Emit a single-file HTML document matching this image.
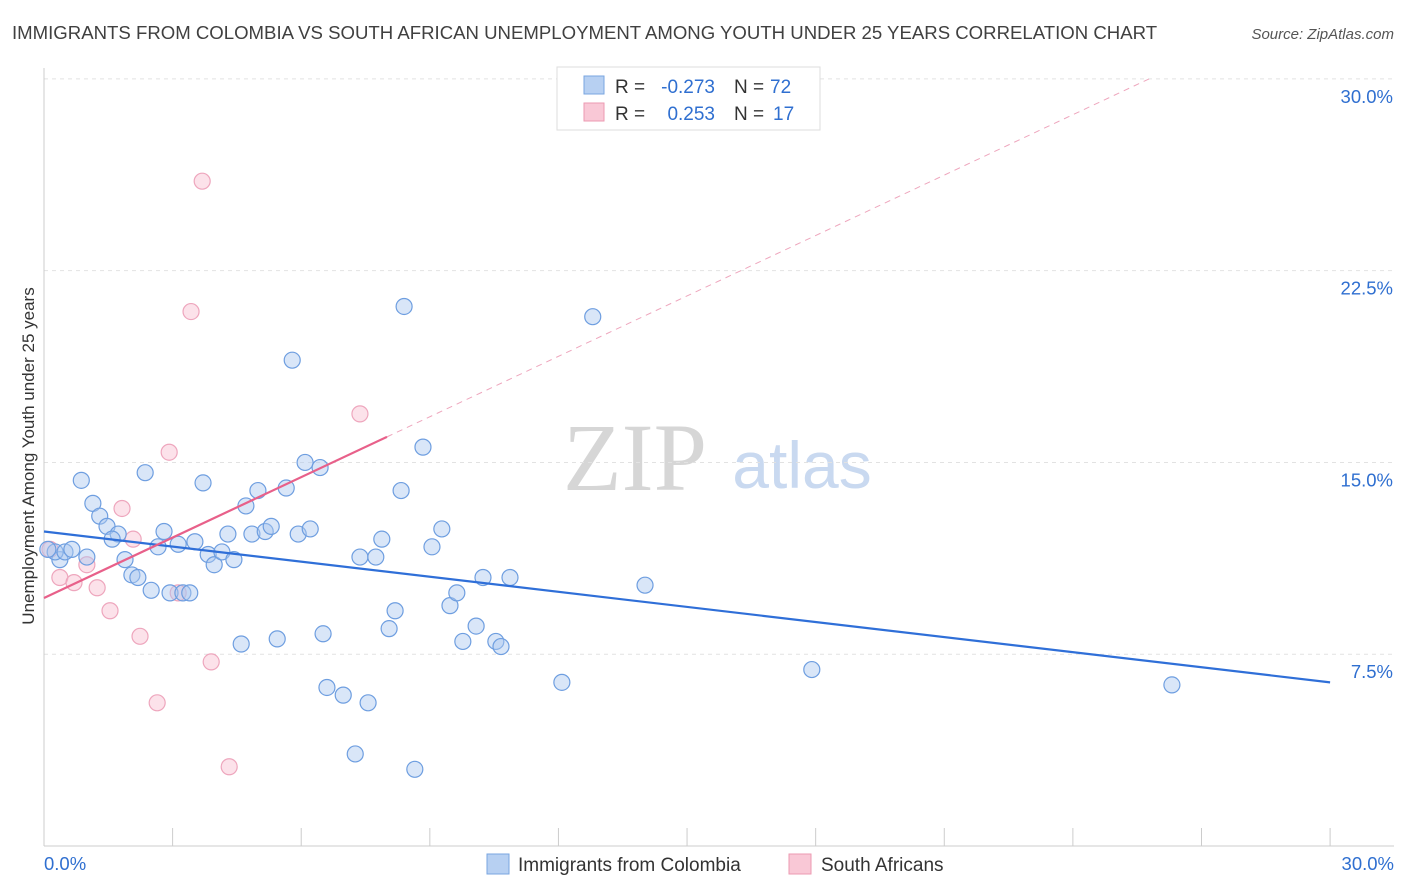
<!DOCTYPE html>
<html><head><meta charset="utf-8"><style>
body{margin:0;background:#fff;font-family:"Liberation Sans",sans-serif;}
svg{display:block}
</style></head><body>
<svg width="1406" height="892" id="chart">
<text x="12" y="39" font-size="18.6" fill="#404040">IMMIGRANTS FROM COLOMBIA VS SOUTH AFRICAN UNEMPLOYMENT AMONG YOUTH UNDER 25 YEARS CORRELATION CHART</text>
<text x="1394" y="39" font-size="15" fill="#555" font-style="italic" text-anchor="end">Source: ZipAtlas.com</text>
<text x="635" y="490" font-size="96" fill="#d6d6d6" font-family="Liberation Serif,serif" text-anchor="middle">ZIP</text>
<text x="802" y="488" font-size="66" fill="#c9d9f0" text-anchor="middle">atlas</text>
<g id="grid"></g><g id="axes"></g><g id="marks"></g>
<text transform="translate(34,456) rotate(-90)" font-size="17" fill="#333" text-anchor="middle">Unemployment Among Youth under 25 years</text>
<g>
<rect x="557" y="67" width="263" height="63" fill="#fff" stroke="#ddd"/>
<rect x="584" y="76" width="20" height="18" fill="#b7d0f2" stroke="#7aa6e0"/>
<rect x="584" y="103" width="20" height="18" fill="#f9c8d6" stroke="#ec9ab2"/>
<text x="615" y="93" font-size="19" fill="#333">R =</text>
<text x="715" y="93" font-size="19" fill="#2f6fd0" text-anchor="end">-0.273</text>
<text x="734" y="93" font-size="19" fill="#333">N =</text>
<text x="770" y="93" font-size="19" fill="#2f6fd0">72</text>
<text x="615" y="120" font-size="19" fill="#333">R =</text>
<text x="715" y="120" font-size="19" fill="#2f6fd0" text-anchor="end">0.253</text>
<text x="734" y="120" font-size="19" fill="#333">N =</text>
<text x="773" y="120" font-size="19" fill="#2f6fd0">17</text>
</g>
<g>
<rect x="487" y="854" width="22" height="20" fill="#b7d0f2" stroke="#7aa6e0"/>
<text x="518" y="871" font-size="19" fill="#333">Immigrants from Colombia</text>
<rect x="789" y="854" width="22" height="20" fill="#f9c8d6" stroke="#ec9ab2"/>
<text x="821" y="871" font-size="19" fill="#333">South Africans</text>
</g>
</svg>
<script>
const blueX=[0.87,1.14,1.3,1.47,1.73,1.59,1.89,2.05,2.19,2.36,2.5,2.66,2.8,2.94,3.13,3.24,3.4,3.52,3.71,3.83,3.97,4.15,4.29,4.43,4.6,4.71,4.85,4.99,5.16,5.3,5.44,5.65,5.79,5.93,6.09,6.21,6.44,6.51,6.6,6.98,7.26,7.37,7.56,7.74,7.88,8.05,8.19,8.33,8.4,8.65,8.84,9.05,9.28,9.47,9.63,9.77,10.08,10.24,10.54,10.66,10.87,12.08,12.8,14.02,17.91,26.31,0.37,0.26,0.49,0.65,0.09,1.0];
const blueY=[14.3,13.4,12.9,12.5,12.2,12.0,11.2,10.6,10.5,14.6,10.0,11.7,12.3,9.9,11.8,9.9,9.9,11.9,14.2,11.4,11.0,11.5,12.2,11.2,7.9,13.3,12.2,13.9,12.3,12.5,8.1,14.0,19.0,12.2,15.0,12.4,14.8,8.3,6.2,5.9,3.6,11.3,5.6,11.3,12.0,8.5,9.2,13.9,21.1,3.0,15.6,11.7,12.4,9.4,9.9,8.0,8.6,10.5,8.0,7.8,10.5,6.4,20.7,10.2,6.9,6.3,11.2,11.5,11.5,11.6,11.6,11.3];
const pinkX=[0.14,0.37,0.7,1.0,1.24,1.54,1.82,2.08,2.24,2.64,2.92,3.13,3.43,3.69,3.9,4.32,7.37];
const pinkY=[11.6,10.5,10.3,11.0,10.1,9.2,13.2,12.0,8.2,5.6,15.4,9.9,20.9,26.0,7.2,3.1,16.9];
const yTicks=[7.5,15.0,22.5,30.0];
const yTickLabels=["7.5%","15.0%","22.5%","30.0%"];
const blueLine=[12.3,6.4];
const pinkLine=[9.7,16.0];
const NS='http://www.w3.org/2000/svg';
const X=v=>44+v*42.87, Y=v=>846-v*25.57;
function mk(t,a,p){const e=document.createElementNS(NS,t);for(const k in a)e.setAttribute(k,a[k]);document.getElementById(p).appendChild(e);return e;}
yTicks.forEach((t,i)=>{
 const g=mk('line',{x1:44,x2:1394,y1:Y(t),y2:Y(t),stroke:'#e2e2e2','stroke-dasharray':'4,4'},'grid');
 
 
 const l=mk('text',{x:1393,y:Y(t)+24,'font-size':18.5,fill:'#2f6fd0','text-anchor':'end'},'axes');
 l.textContent=yTickLabels[i];
 
 
});
const ax=mk('line',{x1:44,x2:44,y1:68,y2:846,stroke:'#ccc'},'axes');


const bx=mk('line',{x1:44,x2:1394,y1:846,y2:846,stroke:'#ccc'},'axes');


for(let i=0;i<=10;i++){const t=mk('line',{x1:X(i*3),x2:X(i*3),y1:828,y2:846,stroke:'#ccc'},'axes');
 
 }
[[0,'0.0%','start',44],[30,'30.0%','end',1394]].forEach(d=>{const t=mk('text',{x:d[3],y:870,'font-size':18.5,fill:'#2f6fd0','text-anchor':d[2]},'axes');t.textContent=d[1];
 
 });
pinkX.forEach((x,i)=>{const c=mk('circle',{cx:X(x),cy:Y(pinkY[i]),r:8,fill:'rgba(248,190,208,0.45)',stroke:'#eea6bd','stroke-width':1.2},'marks');
 
 });
blueX.forEach((x,i)=>{const c=mk('circle',{cx:X(x),cy:Y(blueY[i]),r:8,fill:'rgba(170,200,240,0.45)',stroke:'#6e9ee0','stroke-width':1.2},'marks');
 
 });
const bl=mk('line',{x1:X(0),y1:Y(blueLine[0]),x2:X(30),y2:Y(blueLine[1]),stroke:'#2f6fd8','stroke-width':2.2},'marks');


const slope=(pinkLine[1]-pinkLine[0])/8.0;
const xe=(30.0-pinkLine[0])/slope;
const pd=mk('line',{x1:X(8),y1:Y(pinkLine[1]),x2:X(xe),y2:Y(30.0),stroke:'#eea6bd','stroke-width':1,'stroke-dasharray':'6,5'},'marks');


const pl=mk('line',{x1:X(0),y1:Y(pinkLine[0]),x2:X(8),y2:Y(pinkLine[1]),stroke:'#e8608a','stroke-width':2.2},'marks');


</script>
</body></html>
